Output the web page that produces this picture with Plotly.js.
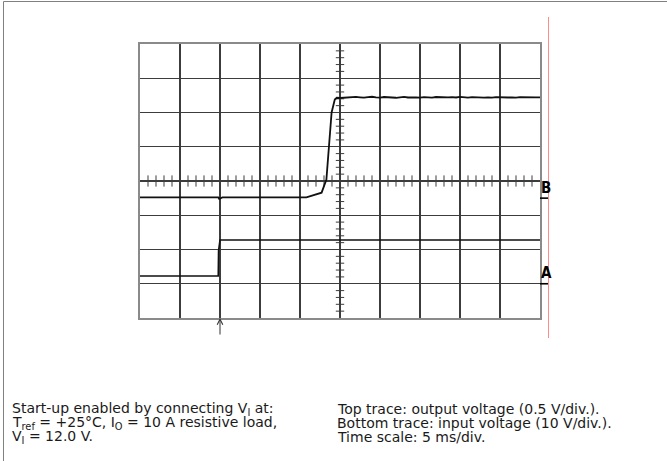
<!DOCTYPE html>
<html>
<head>
<meta charset="utf-8">
<script src="https://cdn.plot.ly/plotly-3.0.1.min.js"></script>
<style>
  html, body { margin: 0; padding: 0; background: #ffffff; }
  #chart { width: 667px; height: 461px; }
</style>
</head>
<body>
<div id="chart"></div>
<script>
// ---- Data ----
// Time in ms (5 ms/div, 10 divisions)
const outTime = [0, 9.8, 9.9, 10.3, 20.8, 21.4, 22.0, 22.7, 23.3, 23.65, 23.95, 24.35, 24.6,
  25.0, 25.5, 26.0, 26.5, 27.0, 27.5, 28.0, 28.5, 29.0, 29.5,
  30.0, 30.5, 31.0, 31.5, 32.0, 32.5, 33.0, 33.5, 34.0, 34.5,
  35.0, 35.5, 36.0, 36.5, 37.0, 37.5, 38.0, 38.5, 39.0, 39.5,
  40.0, 40.5, 41.0, 41.5, 42.0, 42.5, 43.0, 43.5, 44.0, 44.5,
  45.0, 45.5, 46.0, 46.5, 47.0, 47.5, 48.0, 48.5, 49.0, 49.5, 50.0];
// Output voltage in V (top trace, 0.5 V/div)
const outVolt = [0.01, 0.01, -0.01, 0.01, 0.01, 0.03, 0.05, 0.08, 0.27, 0.76, 1.25, 1.44, 1.465,
  1.462, 1.468, 1.475, 1.470, 1.478, 1.472, 1.466, 1.474, 1.480, 1.471,
  1.468, 1.476, 1.470, 1.473, 1.465, 1.472, 1.477, 1.469, 1.474, 1.470,
  1.466, 1.475, 1.471, 1.468, 1.476, 1.472, 1.463, 1.470, 1.474, 1.469,
  1.477, 1.471, 1.467, 1.473, 1.470, 1.475, 1.468, 1.472, 1.466, 1.474,
  1.470, 1.476, 1.469, 1.472, 1.467, 1.474, 1.471, 1.469, 1.475, 1.470, 1.472];
// Input voltage in V (bottom trace, 10 V/div)
const inTime = [0, 9.78, 9.82, 10.0, 50.0];
const inVolt = [2.26, 2.26, 9.6, 12.77, 12.77];

// Channel settings
const outVoltsPerDiv = 0.5, outGroundDiv = -0.5;   // channel B
const inVoltsPerDiv = 10, inGroundDiv = -3;        // channel A
const channelLabels = ['B', 'A'];

const textLeft = [
  'Start-up enabled by connecting V<sub>I</sub> at:',
  'T<sub>ref</sub> = +25°C, I<sub>O</sub> = 10 A resistive load,',
  'V<sub>I</sub> = 12.0 V.'
];
const textRight = [
  'Top trace: output voltage (0.5 V/div.).',
  'Bottom trace: input voltage (10 V/div.).',
  'Time scale: 5 ms/div.'
];

// ---- Layout geometry ----
const W = 667, H = 461;
const L = 140, R = 540, T = 44, B = 318;
const px2x = p => (p - L) / (R - L);
const py2y = p => (B - p) / (B - T);

const toDiv = (arr, vpd, g) => arr.map(v => v / vpd + g);

// centre-axis minor ticks
const tx = [], ty = [];
for (let i = 1; i < 50; i++) { if (i % 5 !== 0) { tx.push(i); ty.push(0); } }
const vx = [], vy = [];
for (let k = -19; k <= 19; k++) { if (k % 5 !== 0) { vx.push(25); vy.push(k / 5); } }

const gridCol = '#3c3c3c';
const traces = [
  { x: tx, y: ty, mode: 'markers', hoverinfo: 'skip',
    marker: { symbol: 'line-ns', size: 8, line: { width: 1, color: gridCol } } },
  { x: vx, y: vy, mode: 'markers', hoverinfo: 'skip',
    marker: { symbol: 'line-ew', size: 6, line: { width: 1, color: gridCol } } },
  { x: outTime, y: toDiv(outVolt, outVoltsPerDiv, outGroundDiv), mode: 'lines',
    line: { color: '#111111', width: 1.8 }, hoverinfo: 'skip' },
  { x: inTime, y: toDiv(inVolt, inVoltsPerDiv, inGroundDiv), mode: 'lines',
    line: { color: '#111111', width: 1.6 }, hoverinfo: 'skip' }
];

const font = 'DejaVu Sans, Liberation Sans, Arial, sans-serif';
const annotations = [];
const rowsY = [408.5, 422.5, 436.5];
textLeft.forEach((t, i) => annotations.push({
  xref: 'paper', yref: 'paper', x: px2x(10), y: py2y(rowsY[i]),
  xanchor: 'left', yanchor: 'middle', showarrow: false, text: t,
  font: { family: font, size: 14, color: '#1a1a1a' }
}));
textRight.forEach((t, i) => annotations.push({
  xref: 'paper', yref: 'paper', x: px2x(335), y: py2y(rowsY[i]),
  xanchor: 'left', yanchor: 'middle', showarrow: false, text: t,
  font: { family: font, size: 14, color: '#1a1a1a' }
}));
// channel markers
[outGroundDiv, inGroundDiv].forEach((g, i) => annotations.push({
  xref: 'paper', yref: 'y', x: px2x(539), y: g + 0.3,
  xanchor: 'left', yanchor: 'middle', showarrow: false, text: '<b>' + channelLabels[i] + '</b>',
  font: { family: 'Liberation Sans Narrow, DejaVu Sans Condensed, Arial Narrow, sans-serif', size: 15, color: '#000' }
}));
// trigger arrow
annotations.push({
  xref: 'x', yref: 'y', x: 10, y: -4, ax: 0, ay: 18, text: '', showarrow: true,
  arrowhead: 5, arrowsize: 1.1, arrowwidth: 1, arrowcolor: '#333'
});

const shapes = [
  // channel ground markers
  { type: 'line', xref: 'paper', yref: 'y', x0: px2x(540), x1: px2x(548.5), y0: outGroundDiv, y1: outGroundDiv,
    line: { color: '#000', width: 1.6 } },
  { type: 'line', xref: 'paper', yref: 'y', x0: px2x(540), x1: px2x(548.5), y0: inGroundDiv, y1: inGroundDiv,
    line: { color: '#000', width: 1.6 } },
  // red vertical marker
  { type: 'line', xref: 'paper', yref: 'paper', x0: px2x(548.5), x1: px2x(548.5), y0: py2y(17), y1: py2y(338),
    line: { color: '#ff8a8a', width: 1 } },
  // page frame (left and top)
  { type: 'line', xref: 'paper', yref: 'paper', x0: px2x(3.5), x1: px2x(3.5), y0: py2y(1.5), y1: py2y(461),
    line: { color: '#808080', width: 1 } },
  { type: 'line', xref: 'paper', yref: 'paper', x0: px2x(3.5), x1: px2x(667), y0: py2y(1.5), y1: py2y(1.5),
    line: { color: '#808080', width: 1 } }
];

const axisCommon = {
  showgrid: true, gridcolor: gridCol, gridwidth: 1.3, zeroline: false,
  showticklabels: false, ticks: '', showline: true, mirror: true,
  linecolor: '#8a8a8a', linewidth: 1.6, fixedrange: true
};

const layout = {
  width: W, height: H,
  margin: { l: L, r: W - R, t: T, b: H - B, pad: 0 },
  paper_bgcolor: '#ffffff', plot_bgcolor: '#ffffff',
  showlegend: false,
  xaxis: Object.assign({ range: [0, 50], dtick: 5, tick0: 0 }, axisCommon),
  yaxis: Object.assign({ range: [-4, 4], dtick: 1, tick0: 0 }, axisCommon),
  annotations: annotations,
  shapes: shapes
};

Plotly.newPlot('chart', traces, layout, { staticPlot: true, displayModeBar: false });
</script>
</body>
</html>
